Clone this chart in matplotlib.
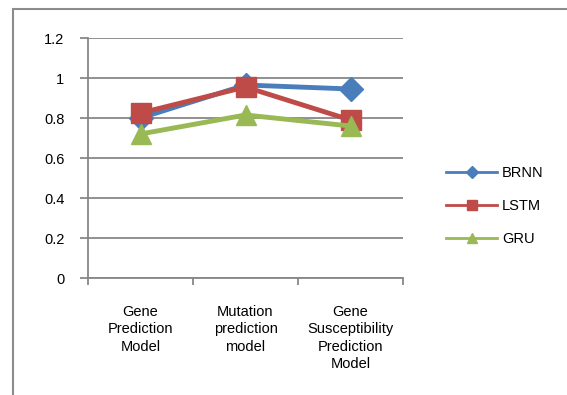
import matplotlib.pyplot as plt
import numpy as np
from matplotlib.patches import Rectangle

plt.rcParams["font.family"] = ["Liberation Sans", "DejaVu Sans"]

categories = [
    "Gene\nPrediction\nModel",
    "Mutation\nprediction\nmodel",
    "Gene\nSusceptibility\nPrediction\nModel",
]
brnn = [0.80, 0.965, 0.945]
lstm = [0.825, 0.955, 0.79]
gru = [0.72, 0.815, 0.76]
y_ticks = [0, 0.2, 0.4, 0.6, 0.8, 1.0, 1.2]
y_tick_labels = ["0", "0.2", "0.4", "0.6", "0.8", "1", "1.2"]

grid_col = "#878787"

fig = plt.figure(figsize=(5.67, 3.95), dpi=100)
# outer chart frame (only left and top edges show in the crop)
fig.patches.append(
    Rectangle((13 / 567, -0.1), 1.2, (395 - 9) / 395 + 0.1,
              transform=fig.transFigure, fill=False,
              edgecolor="#8c8c8c", linewidth=1.5)
)

ax = fig.add_axes([88 / 567, (395 - 278) / 395, 315 / 567, 240 / 395])
x = np.arange(len(categories))

ax.plot(x, brnn, color="#4a7ebb", lw=3.5, marker="D", ms=12, label="BRNN", zorder=3)
ax.plot(x, lstm, color="#be4b48", lw=3.5, marker="s", ms=14, label="LSTM", zorder=4)
ax.plot(x, gru, color="#98b954", lw=3.5, marker="^", ms=14, label="GRU", zorder=5)

ax.set_xlim(-0.5, 2.5)
ax.set_ylim(0, 1.2)
ax.set_yticks(y_ticks)
ax.set_yticklabels(y_tick_labels, fontsize=10.5)
ax.yaxis.grid(True, color=grid_col, lw=1.3)
ax.set_axisbelow(True)

# tick marks sit on category boundaries, names centred between them
ax.set_xticks([-0.5, 0.5, 1.5, 2.5])
ax.set_xticklabels([])
ax.tick_params(axis="x", length=5, color=grid_col, width=1.3)
ax.tick_params(axis="y", length=6, color=grid_col, width=1.3, pad=11)
for i, lab in enumerate(categories):
    ax.text(i, -0.135, lab, ha="center", va="top", fontsize=10.5, linespacing=1.3)

for side in ["top", "right"]:
    ax.spines[side].set_visible(False)
for side in ["left", "bottom"]:
    ax.spines[side].set_color(grid_col)
    ax.spines[side].set_linewidth(1.3)

leg = ax.legend(loc="center left", bbox_to_anchor=(1.095, 0.30), frameon=False,
                fontsize=10.5, handlelength=3.5, labelspacing=1.3, markerscale=0.5,
                handletextpad=0.35)
for line in leg.get_lines():
    line.set_linewidth(2)

fig.savefig("out.png", dpi=100)
